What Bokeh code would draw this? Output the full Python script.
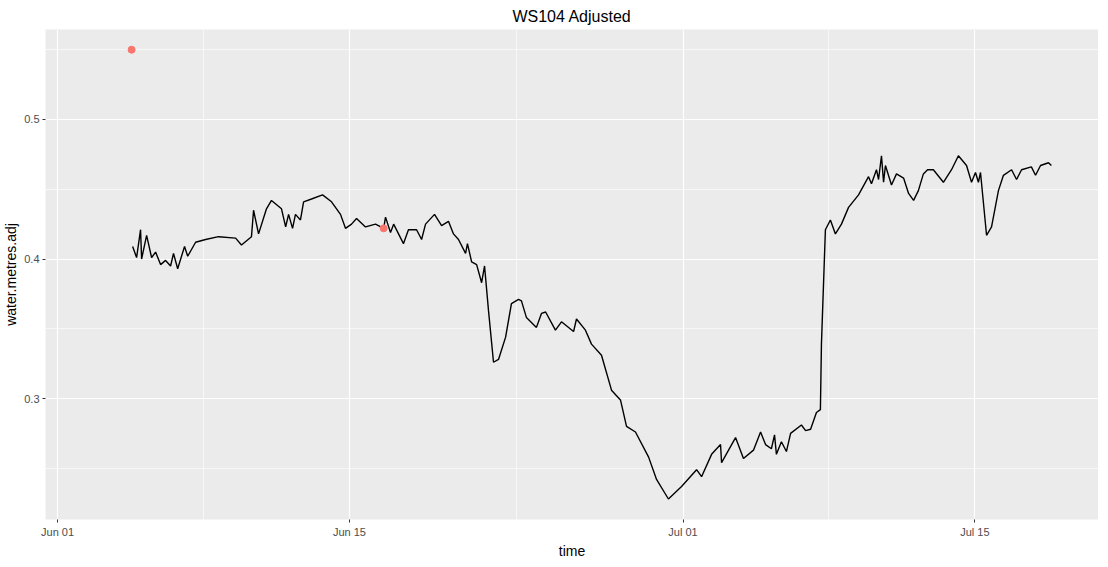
from bokeh.plotting import figure
from bokeh.models import FixedTicker, Range1d
from bokeh.embed import file_html
from bokeh.resources import INLINE

# days since Jun 01 and adjusted water level (m)
days = [3.60, 3.79, 3.98, 4.03, 4.27, 4.51, 4.70, 4.94, 5.18, 5.42, 5.56, 5.76,
        6.09, 6.24, 6.62, 7.10, 7.72, 8.54, 8.82, 9.30, 9.40, 9.64, 10.02, 10.26,
        10.74, 10.94, 11.08, 11.27, 11.41, 11.65, 11.80, 12.18, 12.71, 13.14, 13.57,
        13.81, 14.10, 14.34, 14.77, 15.25, 15.64, 15.73, 15.97, 16.12, 16.59, 16.83,
        17.22, 17.46, 17.65, 18.08, 18.42, 18.75, 18.99, 19.23, 19.57, 19.66, 19.86,
        20.10, 20.34, 20.48, 20.67, 20.91, 21.15, 21.49, 21.77, 22.11, 22.25, 22.49,
        22.97, 23.21, 23.41, 23.88, 24.17, 24.75, 24.89, 25.32, 25.61, 26.09, 26.57,
        27.00, 27.29, 27.72, 28.35, 28.73, 29.30, 29.93, 30.65, 30.89, 31.37, 31.80,
        31.85, 32.52, 32.90, 33.38, 33.72, 33.96, 34.24, 34.39, 34.48, 34.72, 34.96,
        35.16, 35.68, 35.88, 36.12, 36.40, 36.59, 36.64, 36.83, 37.07, 37.31, 37.60,
        37.94, 38.42, 38.90, 39.04, 39.28, 39.38, 39.52, 39.62, 39.71, 40.00, 40.24,
        40.58, 40.82, 41.06, 41.29, 41.53, 41.73, 42.01, 42.49, 42.88, 43.21, 43.60,
        43.84, 44.03, 44.17, 44.27, 44.56, 44.80, 45.13, 45.37, 45.76, 46.00, 46.24,
        46.71, 46.91, 47.15, 47.53, 47.67]
level = [0.409, 0.401, 0.421, 0.400, 0.417, 0.401, 0.405, 0.396, 0.399, 0.395, 0.404, 0.393,
         0.409, 0.402, 0.412, 0.414, 0.416, 0.415, 0.410, 0.416, 0.435, 0.418, 0.436, 0.442,
         0.436, 0.423, 0.432, 0.422, 0.432, 0.428, 0.441, 0.443, 0.446, 0.441, 0.432,
         0.422, 0.425, 0.429, 0.423, 0.425, 0.422, 0.430, 0.419, 0.425, 0.411, 0.421,
         0.421, 0.414, 0.425, 0.432, 0.424, 0.427, 0.418, 0.414, 0.404, 0.411, 0.398,
         0.396, 0.383, 0.395, 0.363, 0.326, 0.328, 0.344, 0.368, 0.371, 0.370, 0.358,
         0.351, 0.361, 0.362, 0.349, 0.355, 0.348, 0.357, 0.349, 0.339, 0.331, 0.306,
         0.299, 0.280, 0.276, 0.258, 0.242, 0.228, 0.237, 0.249, 0.244, 0.260, 0.267,
         0.254, 0.272, 0.257, 0.263, 0.276, 0.267, 0.264, 0.274, 0.260, 0.269, 0.262,
         0.275, 0.281, 0.277, 0.278, 0.290, 0.292, 0.339, 0.421, 0.428, 0.418, 0.425,
         0.437, 0.446, 0.459, 0.454, 0.464, 0.457, 0.474, 0.455, 0.467, 0.453, 0.461,
         0.458, 0.447, 0.442, 0.449, 0.461, 0.464, 0.464, 0.455, 0.464, 0.474, 0.467,
         0.455, 0.462, 0.455, 0.462, 0.417, 0.423, 0.449, 0.460, 0.464, 0.457, 0.464,
         0.466, 0.460, 0.467, 0.469, 0.467]

# flagged points
flag_days = [3.55, 15.64]
flag_level = [0.550, 0.422]

x_ticks = [0, 14, 30, 44]
x_labels = ["Jun 01", "Jun 15", "Jul 01", "Jul 15"]
x_minor = [7, 22, 37]
y_ticks = [0.3, 0.4, 0.5]
y_minor = [0.25, 0.35, 0.45, 0.55]

p = figure(
    title="WS104 Adjusted",
    x_axis_label="time",
    y_axis_label="water.metres.adj",
    frame_width=1053, frame_height=490,
    x_range=Range1d(-0.58, 49.93), y_range=Range1d(0.2133, 0.5645),
    output_backend="svg", toolbar_location=None,
    min_border_left=36, min_border_right=0, min_border_top=24, min_border_bottom=30,
)

p.background_fill_color = "#EBEBEB"
p.outline_line_color = None
p.title.align = "center"
p.title.text_font = "Liberation Sans"
p.title.text_font_size = "16px"
p.title.text_font_style = "normal"
p.title.text_color = "black"

p.xaxis.ticker = FixedTicker(ticks=x_ticks, minor_ticks=x_minor)
p.xaxis.major_label_overrides = dict(zip(x_ticks, x_labels))
p.yaxis.ticker = FixedTicker(ticks=y_ticks, minor_ticks=y_minor)

for ax in (p.xaxis, p.yaxis):
    ax.axis_line_color = None
    ax.major_tick_line_color = "#333333"
    ax.major_tick_in = 0
    ax.major_tick_out = 3
    ax.minor_tick_line_color = None
    ax.major_label_text_font = "Liberation Sans"
    ax.major_label_text_font_size = "11px"
    ax.major_label_text_color = "#4D4D4D"
    ax.major_label_standoff = 2
    ax.axis_label_text_font = "Liberation Sans"
    ax.axis_label_text_font_size = "14px"
    ax.axis_label_text_font_style = "normal"
    ax.axis_label_text_color = "black"
    ax.axis_label_standoff = 2

for g in (p.xgrid, p.ygrid):
    g.grid_line_color = "white"
    g.grid_line_width = 1.2
    g.minor_grid_line_color = "white"
    g.minor_grid_line_width = 0.6

p.line(days, level, color="black", line_width=1.4)
p.scatter(flag_days, flag_level, size=7, color="#F8766D")

open("out.html", "w").write(file_html(p, INLINE))
